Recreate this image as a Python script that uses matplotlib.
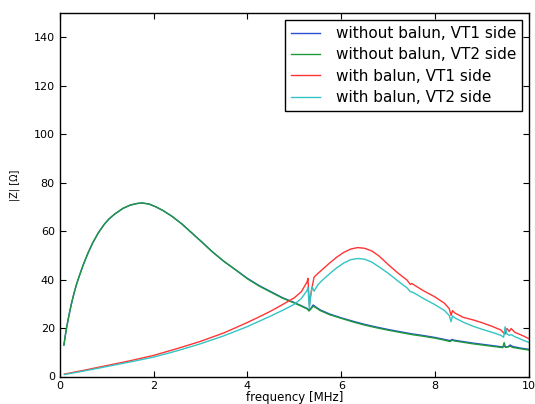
import matplotlib
matplotlib.use("Agg")
import matplotlib.pyplot as plt

# ─────────────────────────────────────────────
# DATA
# ─────────────────────────────────────────────
freq_nob = [0.09, 0.12, 0.15, 0.20, 0.25, 0.30, 0.35, 0.40, 0.50, 0.60,
            0.70, 0.82, 0.95, 1.05, 1.17, 1.35, 1.50, 1.65, 1.75, 1.90,
            2.05, 2.20, 2.40, 2.60, 2.80, 3.00, 3.25, 3.50, 3.75, 4.00,
            4.25, 4.50, 4.75, 5.00, 5.15, 5.28, 5.31, 5.35, 5.40, 5.45,
            5.55, 5.75, 6.00, 6.25, 6.50, 6.75, 7.00, 7.25, 7.50, 7.75,
            8.00, 8.20, 8.32, 8.36, 8.40, 8.60, 8.80, 9.00, 9.20, 9.44,
            9.47, 9.50, 9.55, 9.60, 9.65, 9.80, 10.0]

z_nob_vt1 = [13.0, 17.0, 20.5, 25.5, 30.0, 34.0, 37.5, 40.5, 46.0, 50.8,
             55.0, 59.2, 62.8, 65.0, 67.0, 69.4, 70.7, 71.4, 71.6, 71.2,
             70.0, 68.5, 66.0, 63.0, 59.5, 56.0, 51.5, 47.5, 44.0, 40.5,
             37.5, 35.0, 32.5, 30.5, 29.2, 28.0, 27.5, 28.0, 29.5, 28.8,
             27.5, 25.8, 24.2, 22.8, 21.5, 20.4, 19.4, 18.5, 17.6, 16.9,
             16.1, 15.3, 14.8, 15.3, 15.0, 14.4, 13.8, 13.3, 12.8, 12.2,
             12.5, 12.2, 12.3, 13.0, 12.4, 11.8, 11.2]

z_nob_vt2 = [13.0, 17.0, 20.5, 25.5, 30.0, 34.0, 37.5, 40.5, 46.0, 50.8,
             55.0, 59.2, 62.8, 65.0, 67.0, 69.4, 70.7, 71.4, 71.6, 71.2,
             70.0, 68.5, 66.0, 63.0, 59.5, 56.0, 51.5, 47.5, 44.0, 40.3,
             37.3, 34.8, 32.3, 30.3, 29.0, 27.8, 27.0, 27.8, 29.0, 28.5,
             27.2, 25.5, 24.0, 22.5, 21.2, 20.1, 19.1, 18.2, 17.3, 16.6,
             15.8, 15.0, 14.4, 15.0, 14.7, 14.1, 13.5, 13.0, 12.5, 11.9,
             14.0, 12.0, 12.2, 12.5, 12.0, 11.5, 10.9]

freq_bal = [0.10, 0.50, 1.00, 1.50, 2.00, 2.50, 3.00, 3.50, 4.00, 4.25,
            4.50, 4.75, 5.00, 5.15, 5.27, 5.29, 5.32, 5.35, 5.38, 5.42,
            5.50, 5.60, 5.75, 5.90, 6.05, 6.20, 6.35, 6.50, 6.65, 6.80,
            7.00, 7.20, 7.40, 7.47, 7.50, 7.55, 7.75, 8.00, 8.20, 8.30,
            8.34, 8.37, 8.42, 8.60, 8.80, 9.00, 9.20, 9.40, 9.46, 9.49,
            9.53, 9.58, 9.62, 9.70, 9.85, 10.0]

z_bal_vt1 = [1.0, 2.5, 4.5, 6.5, 8.7, 11.5, 14.5, 18.0, 22.3, 24.6,
             27.0, 29.7, 32.5, 35.0, 39.0, 40.5, 29.5, 34.0, 37.0, 41.0,
             42.5, 44.2, 46.8, 49.2, 51.2, 52.6, 53.2, 52.9, 51.8, 49.8,
             46.2, 42.8, 39.8, 38.0, 38.4, 37.8, 35.4, 32.8, 30.2, 28.0,
             25.2, 27.2, 26.2, 24.4, 23.4, 22.2, 20.8, 19.2, 18.0, 17.5,
             19.8, 18.6, 19.8, 18.2, 17.0, 15.6]

z_bal_vt2 = [0.8, 2.2, 4.1, 6.0, 8.0, 10.6, 13.5, 16.8, 20.6, 22.8,
             25.0, 27.3, 29.8, 32.2, 35.5, 36.7, 28.0, 33.5, 37.0, 35.2,
             37.8, 39.8, 42.4, 44.8, 46.8, 48.2, 48.7, 48.4, 47.2, 45.3,
             42.6, 39.5, 36.6, 35.0, 34.9, 34.5, 32.2, 29.6, 27.2, 25.2,
             22.6, 25.0, 24.2, 22.4, 20.8, 19.5, 18.3, 17.0, 16.2, 20.5,
             17.5, 17.0, 17.3, 16.4, 15.2, 14.0]

labels = ["without balun, VT1 side", "without balun, VT2 side",
          "with balun, VT1 side", "with balun, VT2 side"]

# ─────────────────────────────────────────────
# STYLE  – old classic matplotlib look
# ─────────────────────────────────────────────
plt.rcParams.update({
    "font.family":       "DejaVu Sans",
    "xtick.direction":   "in",
    "ytick.direction":   "in",
    "xtick.top":         True,
    "ytick.right":       True,
    "xtick.major.size":  4,
    "ytick.major.size":  4,
    "xtick.labelsize":   8,
    "ytick.labelsize":   8,
    "axes.linewidth":    1.0,
})

fig = plt.figure(figsize=(5.35, 4.04), dpi=100)
ax = fig.add_axes([59.7 / 535, (404 - 376.5) / 404,
                   (529 - 59.7) / 535, (376.5 - 13) / 404])

ax.plot(freq_nob, z_nob_vt1, color="#2b4fcf", lw=1.0, label=labels[0])
ax.plot(freq_nob, z_nob_vt2, color="#1f9a3a", lw=1.0, label=labels[1])
ax.plot(freq_bal, z_bal_vt1, color="#ff3535", lw=1.0, label=labels[2])
ax.plot(freq_bal, z_bal_vt2, color="#33c4c4", lw=1.0, label=labels[3])

ax.set_xlim(0, 10)
ax.set_ylim(0, 150)
ax.set_xticks([0, 2, 4, 6, 8, 10])
ax.set_yticks([0, 20, 40, 60, 80, 100, 120, 140])
ax.set_xlabel("frequency [MHz]", fontsize=8.5, labelpad=0)
ax.set_ylabel("|Z| [\u03a9]", fontsize=7)
ax.yaxis.set_label_coords(-0.085, 0.527)

leg = ax.legend(loc="upper right", fontsize=11, fancybox=False,
                handlelength=1.9, handletextpad=1.0, borderaxespad=0.45,
                labelspacing=0.42)
leg.get_frame().set_edgecolor("black")
leg.get_frame().set_linewidth(1.0)
leg.get_frame().set_alpha(1.0)

fig.savefig("out.png", dpi=100)
